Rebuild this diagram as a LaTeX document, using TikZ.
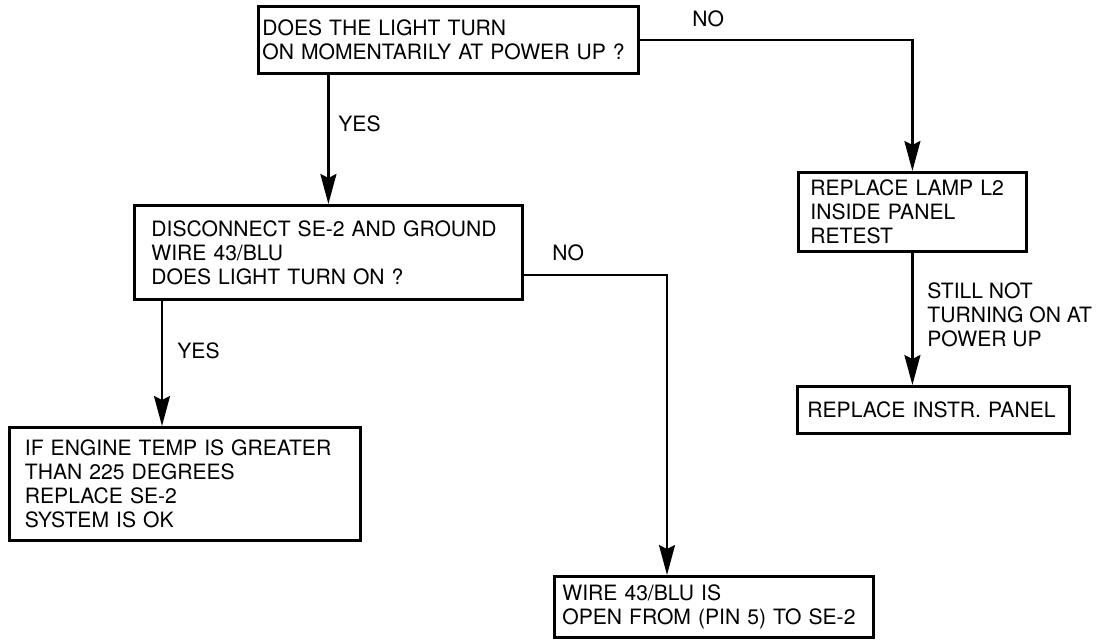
\documentclass[tikz,border=0pt]{standalone}
\usepackage{fontspec}
\setmainfont{TeX Gyre Heros}
\usepackage{tikz}
\usetikzlibrary{positioning,arrows.meta}
\tikzset{
    step box/.style={rectangle, draw, line width=1.4pt, align=left, anchor=north west,
        font=\fontsize{10.55}{12}\selectfont, inner ysep=0pt},
    branch label/.style={font=\fontsize{10.55}{12}\selectfont, inner sep=0pt, anchor=base west},
    flow/.style={line width=1.15pt, -{Stealth[length=15pt, width=8pt, inset=2pt]}}
}

\begin{document}
\begin{tikzpicture}[x=0.5pt, y=-0.5pt]
    \useasboundingbox (0,0) rectangle (1096,642);

    \node[step box, minimum width=190pt, minimum height=33.5pt, text width=186pt, inner xsep=2pt] (q1) at (257,5)
        {DOES THE LIGHT TURN\\ON MOMENTARILY AT POWER UP ?};
    \node[step box, minimum width=194pt, minimum height=47pt, text width=177pt, inner xsep=8.5pt] (q2) at (133,204)
        {DISCONNECT SE-2 AND GROUND\\WIRE 43/BLU\\DOES LIGHT TURN ON ?};
    \node[step box, minimum width=114pt, minimum height=39.5pt, text width=102pt, inner xsep=6pt] (lamp) at (797,171)
        {REPLACE LAMP L2\\INSIDE PANEL\\RETEST};
    \node[step box, minimum width=136pt, minimum height=23.5pt, text width=126pt, inner xsep=5pt] (panel) at (796,385)
        {REPLACE INSTR. PANEL};
    \node[step box, minimum width=175.5pt, minimum height=56.5pt, text width=160pt, inner xsep=7.75pt] (temp) at (8,426)
        {IF ENGINE TEMP IS GREATER\\THAN 225 DEGREES\\REPLACE SE-2\\SYSTEM IS OK};
    \node[step box, minimum width=159.5pt, minimum height=30.5pt, text width=151.5pt, inner xsep=4pt] (wire) at (553,575)
        {WIRE 43/BLU IS\\OPEN FROM (PIN 5) TO SE-2};

    \coordinate (k2) at (667,275);

    \draw[flow] (q2.north |- q1.south) -- (q2.north);
    \draw[flow] (q1.east) -| (lamp.north);
    \draw[flow] ([xshift=14.5pt]q2.south west) -- ([xshift=14.5pt]q2.south west |- temp.north);
    \draw[flow] (q2.east |- k2) -- (k2) -- (k2 |- wire.north);
    \draw[flow] (lamp.south) -- (lamp.south |- panel.north);

    \node[branch label] (no1) at (692,27) {NO};
    \node[branch label] (yes1) at (338,132) {YES};
    \node[branch label] (no2) at (552,260) {NO};
    \node[branch label] (yes2) at (177,358) {YES};
    \node[branch label, align=left, anchor=north west] (still) at (927,282)
        {STILL NOT\\TURNING ON AT\\POWER UP};
\end{tikzpicture}
\end{document}
